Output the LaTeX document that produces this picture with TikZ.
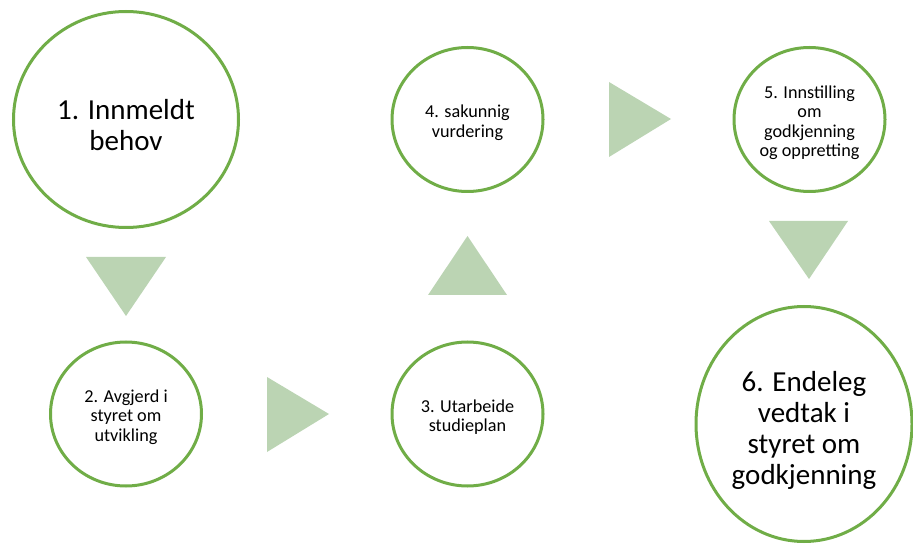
\documentclass[tikz,border=0pt]{standalone}
\usepackage{fontspec}
\setmainfont{Carlito}
\usetikzlibrary{shapes.geometric}
\definecolor{green1}{RGB}{112,173,71}
\definecolor{green2}{RGB}{187,212,179}

\tikzset{
	stepbox/.style={ellipse,draw=green1,line width=3pt,fill=white,inner sep=0pt},
	stepsmall/.style={stepbox,minimum width=151pt,minimum height=144pt},
	bigtext/.style={align=center,inner sep=0pt,font=\fontsize{29}{31}\selectfont,yshift=-6pt},
	smalltext/.style={align=center,inner sep=0pt,font=\fontsize{18.2}{19.5}\selectfont,yshift=-3pt},
	tri/.style={fill=green2}
}

\begin{document}
\begin{tikzpicture}[x=1pt,y=-1pt]

	%%% Canvas
	\useasboundingbox (0,0) rectangle (913,545);

	%%% Steps
	\node[stepbox,minimum width=225pt,minimum height=216pt] (behov) at (126,119.5) {};
	\node[stepsmall] (avgjerd) at (126,414) {};
	\node[stepsmall] (studieplan) at (467.5,414) {};
	\node[stepsmall] (vurdering) at (467.5,119.5) {};
	\node[stepsmall] (innstilling) at (809.5,119.5) {};
	\node[stepbox,minimum width=216pt,minimum height=235pt] (vedtak) at (804,424) {};

	%%% Step texts
	\node[bigtext] (behovtxt) at (behov) {1. Innmeldt\\behov};
	\node[smalltext] (avgjerdtxt) at (avgjerd) {2. Avgjerd i\\styret om\\utvikling};
	\node[smalltext] (studieplantxt) at (studieplan) {3. Utarbeide\\studieplan};
	\node[smalltext] (vurderingtxt) at (vurdering) {4. sakunnig\\vurdering};
	\node[smalltext] (innstillingtxt) at (innstilling) {5. Innstilling\\om\\godkjenning\\og oppretting};
	\node[bigtext] (vedtaktxt) at (vedtak) {6. Endeleg\\vedtak i\\styret om\\godkjenning};

	%%% Triangles between steps
	\fill[tri] (86,257) -- (166,257) -- (126,316) -- cycle;
	\fill[tri] (267,377) -- (267,452) -- (329,414) -- cycle;
	\fill[tri] (428,295) -- (507,295) -- (467.5,236) -- cycle;
	\fill[tri] (609,82) -- (609,157) -- (671,119) -- cycle;
	\fill[tri] (769,221) -- (848,221) -- (809,279) -- cycle;

\end{tikzpicture}
\end{document}
